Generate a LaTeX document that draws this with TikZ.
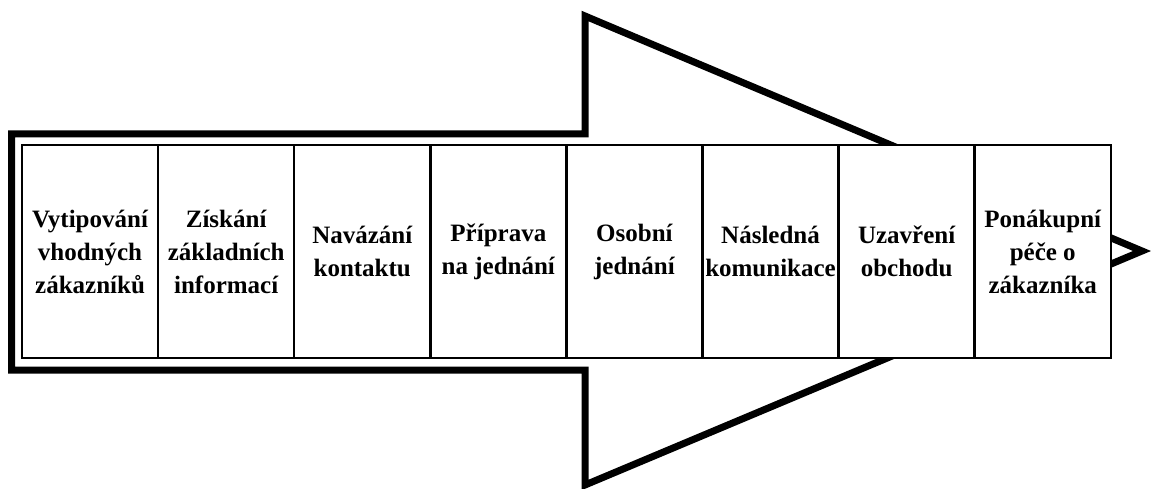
\documentclass[tikz,border=0pt]{standalone}
\usepackage{fontspec}
\setmainfont{Liberation Serif}
\begin{document}
\begin{tikzpicture}[x=1pt,y=-1pt,
  stage/.style={draw, line width=2.5pt, fill=white, minimum width=136.1pt,
    minimum height=213pt, inner sep=0pt, outer sep=0pt, align=center,
    font=\fontsize{25}{33}\selectfont\bfseries},
  outline/.style={line width=7pt, line join=miter, miter limit=20}]
\useasboundingbox (0,0) rectangle (1151,489);
\clip (0,0) rectangle (1151,489);
% big arrow outline
\draw[outline] (585,16) -- (1142,251) -- (585,485) -- (585,370) -- (11.5,370)
  -- (11.5,134) -- (585,134) -- cycle;
% stages
\node[stage, anchor=north west] (b1) at (22,145) {Vytipování\\vhodných\\zákazníků};
\node[stage, anchor=north west] (b2) at (b1.north east) {Získání\\základních\\informací};
\node[stage, anchor=north west] (b3) at (b2.north east) {Navázání\\kontaktu};
\node[stage, anchor=north west] (b4) at (b3.north east) {Příprava\\na jednání};
\node[stage, anchor=north west] (b5) at (b4.north east) {Osobní\\jednání};
\node[stage, anchor=north west] (b6) at (b5.north east) {Následná\\komunikace};
\node[stage, anchor=north west] (b7) at (b6.north east) {Uzavření\\obchodu};
\node[stage, anchor=north west] (b8) at (b7.north east) {Ponákupní\\péče o\\zákazníka};
\end{tikzpicture}
\end{document}
